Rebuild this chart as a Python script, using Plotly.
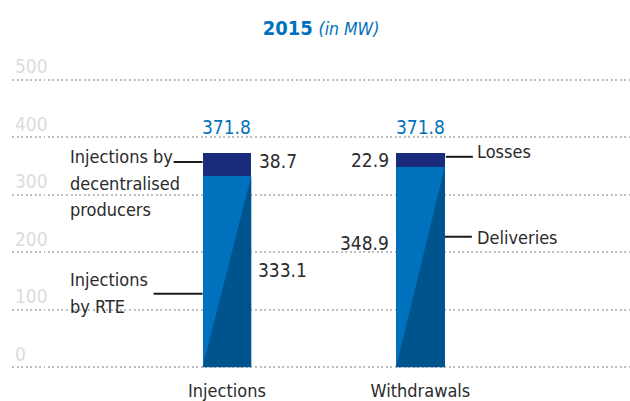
import plotly.graph_objects as go

# ---- data ----
categories = ["Injections", "Withdrawals"]
lower_values = [333.1, 348.9]          # Injections by RTE / Deliveries
upper_values = [38.7, 22.9]            # Injections by decentralised producers / Losses
y_ticks = [0, 100, 200, 300, 400, 500]
title_year = "2015"
title_unit = "(in MW)"

totals = [round(a + b, 1) for a, b in zip(lower_values, upper_values)]

FONT = "DejaVu Sans Condensed, Liberation Sans Narrow, sans-serif"
LIGHT = "#0071BC"
DARK = "#00548E"
NAVY = "#1B2B7B"
TXT = "#2b2b2b"
W = 0.252
xs = list(range(len(categories)))

fig = go.Figure()
fig.add_trace(go.Bar(x=xs, y=lower_values, width=W, marker=dict(color=LIGHT, line=dict(width=0)),
                     hoverinfo="skip", showlegend=False))
fig.add_trace(go.Bar(x=xs, y=upper_values, base=lower_values, width=W,
                     marker=dict(color=NAVY, line=dict(width=0)), hoverinfo="skip", showlegend=False))
# diagonal shading in the lower segment
for x, v in zip(xs, lower_values):
    fig.add_trace(go.Scatter(x=[x - W / 2, x + W / 2, x + W / 2, x - W / 2],
                             y=[0, 0, v, 0], fill="toself", fillcolor=DARK,
                             mode="lines", line=dict(width=0, color=DARK),
                             hoverinfo="skip", showlegend=False))

ann = []
# totals
for x, t in zip(xs, totals):
    ann.append(dict(x=x, y=t, text=f"{t:.1f}", showarrow=False, yanchor="bottom",
                    yshift=13, font=dict(family=FONT, size=19, color=LIGHT)))
# segment values
VF = dict(family=FONT, size=19, color=TXT)
i, w_ = 0, 1
ann.append(dict(x=xs[i] + W / 2, y=lower_values[i] + upper_values[i] / 2 + 6, text=f"{upper_values[i]}",
                showarrow=False, xanchor="left", xshift=6, font=VF))
ann.append(dict(x=xs[i] + W / 2, y=lower_values[i] * 0.51, text=f"{lower_values[i]}",
                showarrow=False, xanchor="left", xshift=5, font=VF))
ann.append(dict(x=xs[w_] - W / 2, y=lower_values[w_] + upper_values[w_] / 2, text=f"{upper_values[w_]}",
                showarrow=False, xanchor="right", xshift=-5, font=VF))
ann.append(dict(x=xs[w_] - W / 2, y=lower_values[w_] * 0.62, text=f"{lower_values[w_]}",
                showarrow=False, xanchor="right", xshift=-5, font=VF))

# series labels
LF = dict(family=FONT, size=18, color=TXT)
dec_lines = ["Injections by", "decentralised", "producers"]
for k, line in enumerate(dec_lines):
    ann.append(dict(x=xs[0] - W / 2, y=366 - k * 46, text=line, showarrow=False, xanchor="left",
                    xshift=-135, font=LF))
rte_lines = ["Injections", "by RTE"]
for k, line in enumerate(rte_lines):
    ann.append(dict(x=xs[0] - W / 2, y=152 - k * 46, text=line, showarrow=False, xanchor="left",
                    xshift=-135, font=LF))
ann.append(dict(x=xs[1] + W / 2, y=376, text="Losses", showarrow=False, xanchor="left",
                xshift=30, font=LF))
ann.append(dict(x=xs[1] + W / 2, y=226, text="Deliveries", showarrow=False, xanchor="left",
                xshift=30, font=LF))

shapes = []
def leader(xc, side, y, x0, x1):
    shapes.append(dict(type="line", xref="x", yref="y", xsizemode="pixel",
                       xanchor=xc + side * W / 2, x0=x0, x1=x1, y0=y, y1=y,
                       line=dict(color="#1a1a1a", width=2)))
leader(xs[0], -1, 357, -29, 0)
leader(xs[0], -1, 128, -49, 0)
leader(xs[1], 1, 366, 1, 28)
leader(xs[1], 1, 227, 0, 27)

fig.update_layout(
    width=630, height=401,
    margin=dict(l=12, r=0, t=51.25, b=27.75),
    paper_bgcolor="white", plot_bgcolor="white",
    barmode="overlay", bargap=0,
    title=dict(text=f"<b>{title_year}</b> <i><span style='font-size:17.5px'>{title_unit}</span></i>",
               x=0.5, xref="paper", xanchor="center", y=0.93, yanchor="middle",
               font=dict(family=FONT, size=20, color=LIGHT)),
    annotations=ann, shapes=shapes,
    xaxis=dict(range=[-1.111, 2.083], tickvals=xs, ticktext=categories, showgrid=False,
               zeroline=False, showline=False, ticks="", ticklabelstandoff=5,
               tickfont=dict(family=FONT, size=18, color=TXT), fixedrange=True),
    yaxis=dict(range=[-10, 550], tickvals=y_ticks, ticklabelposition="inside top",
               showgrid=True, gridcolor="#bdbdbd", griddash="2px,2.5px", gridwidth=2,
               zeroline=False, showline=False, ticks="",
               tickfont=dict(family=FONT, size=19, color="#dcdcdc"), fixedrange=True),
)

fig.write_html("out.html", config={"displayModeBar": False},
               post_script="document.body.style.margin='0px';")
